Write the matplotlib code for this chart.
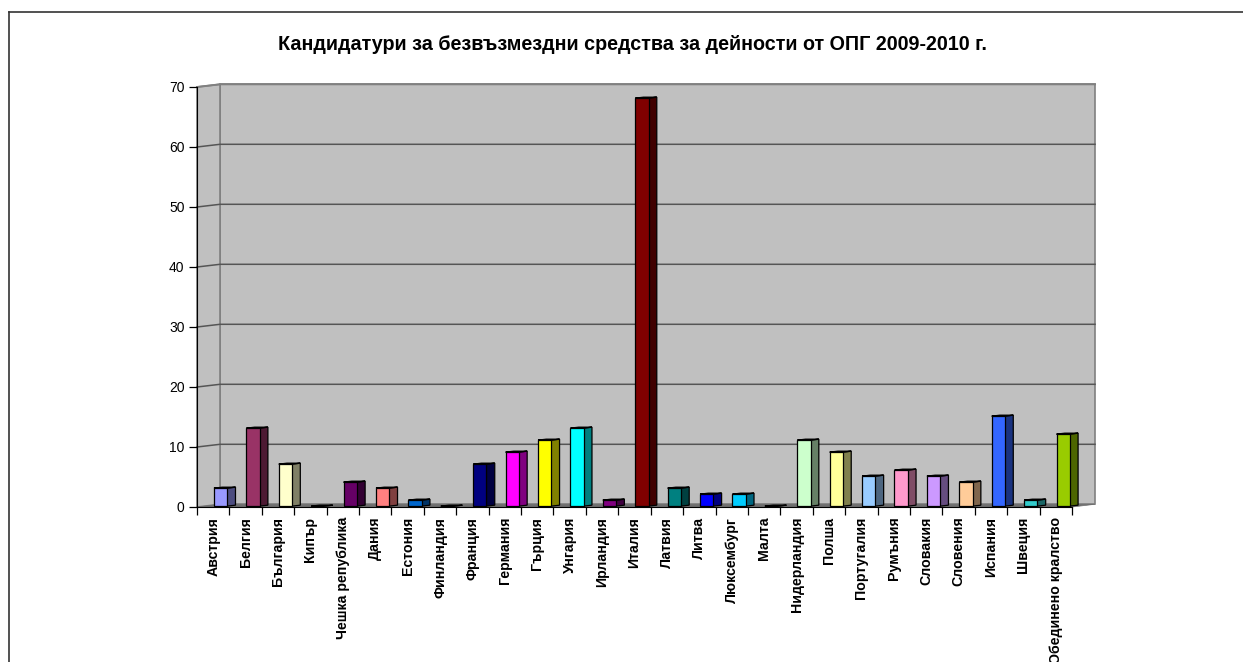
import matplotlib.pyplot as plt
from matplotlib.patches import Polygon
from matplotlib.lines import Line2D

countries = ['Австрия', 'Белгия', 'България', 'Кипър', 'Чешка република', 'Дания',
             'Естония', 'Финландия', 'Франция', 'Германия', 'Гърция', 'Унгария',
             'Ирландия', 'Италия', 'Латвия', 'Литва', 'Люксембург', 'Малта',
             'Нидерландия', 'Полша', 'Португалия', 'Румъния', 'Словакия', 'Словения',
             'Испания', 'Швеция', 'Обединено кралство']
values = [3, 13, 7, 0, 4, 3, 1, 0, 7, 9, 11, 13, 1, 68, 3, 2, 2, 0, 11, 9, 5, 6, 5, 4, 15, 1, 12]
colors = ['#9999FF', '#993366', '#FFFFCC', '#CCFFFF', '#660066', '#FF8080', '#0066CC',
          '#CCCCFF', '#000080', '#FF00FF', '#FFFF00', '#00FFFF', '#800080', '#800000',
          '#008080', '#0000FF', '#00CCFF', '#CCFFFF', '#CCFFCC', '#FFFF99', '#99CCFF',
          '#FF99CC', '#CC99FF', '#FFCC99', '#3366FF', '#33CCCC', '#99CC00']
yticks = [0, 10, 20, 30, 40, 50, 60, 70]
title = 'Кандидатури за безвъзмездни средства за дейности от ОПГ 2009-2010 г.'

plt.rcParams['font.family'] = ['Liberation Sans', 'DejaVu Sans']

W, H = 1243, 662
fig = plt.figure(figsize=(W / 100, H / 100), dpi=100)

# front plane of the 3d plot (pixels)
x0, x1, ytop, ybot = 197, 1072, 87, 507
ax = fig.add_axes([x0 / W, (H - ybot) / H, (x1 - x0) / W, (ybot - ytop) / H])
n = len(countries)
ymax = yticks[-1]
ax.set_xlim(0, n)
ax.set_ylim(0, ymax)
ax.patch.set_visible(False)

# depth offset of the back wall in data units
dx = 23 / ((x1 - x0) / n)
dy = 2.7 / ((ybot - ytop) / ymax)
wall = '#C0C0C0'
edge = '#808080'

# walls and floor
ax.add_patch(Polygon([(dx, dy), (n + dx, dy), (n + dx, ymax + dy), (dx, ymax + dy)],
                     closed=True, fc=wall, ec=edge, lw=1.2, zorder=0, clip_on=False))
ax.add_patch(Polygon([(0, 0), (dx, dy), (dx, ymax + dy), (0, ymax)],
                     closed=True, fc=wall, ec=edge, lw=1.2, zorder=0, clip_on=False))
ax.add_patch(Polygon([(0, 0), (n, 0), (n + dx, dy), (dx, dy)],
                     closed=True, fc='#6E6E6E', ec='#6E6E6E', lw=0.5, zorder=0.5, clip_on=False))
for v in yticks[1:-1]:
    ax.plot([0, dx, n + dx], [v, v + dy, v + dy], color='#555555', lw=1.1,
            zorder=0.6, clip_on=False)
ax.plot([0, dx, n + dx], [ymax, ymax + dy, ymax + dy], color=edge, lw=1.4,
        zorder=0.6, clip_on=False)

# bars
w = 0.41
d0, d1 = 0.32, 0.68
xs = [i + 0.5 + d0 * dx for i in range(n)]
ax.bar(xs, values, width=w, bottom=d0 * dy, color=colors, edgecolor='black',
       linewidth=0.9, zorder=3, clip_on=False)


def darker(c, f=0.5):
    r, g, b = int(c[1:3], 16), int(c[3:5], 16), int(c[5:7], 16)
    return (r * f / 255, g * f / 255, b * f / 255)


ddx = (d1 - d0) * dx
for xc, v, c in zip(xs, values, colors):
    xl, xr = xc - w / 2, xc + w / 2
    yb, yt = d0 * dy, v + d0 * dy
    ax.add_patch(Polygon([(xr, yb), (xr + ddx, yb + (d1 - d0) * dy),
                          (xr + ddx, yt + (d1 - d0) * dy), (xr, yt)],
                         closed=True, fc=darker(c), ec='black', lw=0.9, zorder=2.9,
                         clip_on=False))
    ax.add_patch(Polygon([(xl, yt), (xr, yt), (xr + ddx, yt + (d1 - d0) * dy),
                          (xl + ddx, yt + (d1 - d0) * dy)],
                         closed=True, fc=c, ec='black', lw=0.9, zorder=2.9,
                         clip_on=False))

# axes
for s in ['top', 'right']:
    ax.spines[s].set_visible(False)
ax.spines['left'].set_color('black')
ax.spines['bottom'].set_color('black')
ax.spines['left'].set_zorder(4)
ax.spines['bottom'].set_zorder(4)

ax.set_yticks(yticks)
ax.set_yticklabels([str(t) for t in yticks], fontsize=10)
ax.tick_params(axis='y', direction='out', length=6, width=0.9, pad=3)

ax.set_xticks(range(n + 1))
ax.set_xticklabels([''] * (n + 1))
ax.tick_params(axis='x', which='major', direction='out', length=6, width=0.9)
ax.set_xticks([i + 0.5 for i in range(n)], minor=True)
ax.set_xticklabels(countries, minor=True, rotation=90, fontsize=10.2,
                   fontweight='bold', ha='center', va='top')
ax.tick_params(axis='x', which='minor', length=0, pad=7)

fig.text(632 / W, 1 - 45 / H, title, ha='center', va='center', fontsize=14.2,
         fontweight='bold')

# chart border
fig.add_artist(Line2D([8.5 / W, 8.5 / W], [0, 1 - 11.5 / H], color='#333333', lw=1.2))
fig.add_artist(Line2D([8.5 / W, 1], [1 - 11.5 / H, 1 - 11.5 / H], color='#333333', lw=1.2))

fig.savefig('out.png', dpi=100)
